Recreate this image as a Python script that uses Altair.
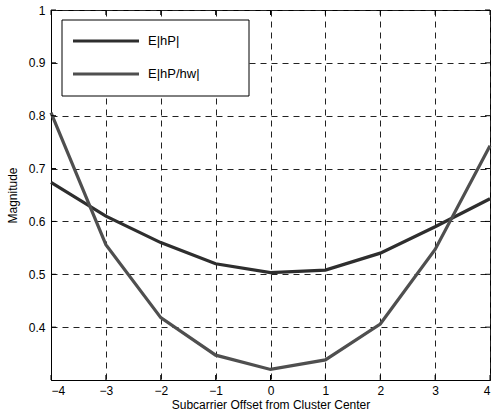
import altair as alt
import pandas as pd

# Subcarrier offsets and the two magnitude curves
offsets = [-4, -3, -2, -1, 0, 1, 2, 3, 4]
e_hp = [0.674, 0.610, 0.560, 0.520, 0.503, 0.508, 0.540, 0.590, 0.643]
e_hp_hw = [0.806, 0.556, 0.418, 0.347, 0.320, 0.338, 0.406, 0.547, 0.743]

series_names = ["E|hP|", "E|hP/hw|"]
series_colors = ["#2e2e2e", "#4f4f4f"]

x_ticks = [-4, -3, -2, -1, 0, 1, 2, 3, 4]
y_ticks = [0.4, 0.5, 0.6, 0.7, 0.8, 0.9, 1.0]

W, H = 439, 370

rows = []
for name, vals in zip(series_names, [e_hp, e_hp_hw]):
    for o, v in zip(offsets, vals):
        rows.append({"offset": o, "mag": v, "series": name})
df = pd.DataFrame(rows)

xscale = alt.Scale(domain=[-4, 4], nice=False, zero=False)
yscale = alt.Scale(domain=[0.3, 1.0], nice=False, zero=False)
cscale = alt.Scale(domain=series_names, range=series_colors)

font = "Liberation Sans"

base = alt.Chart(df)

lines = base.mark_line(strokeWidth=3.2).encode(
    x=alt.X("offset:Q", scale=xscale,
            axis=alt.Axis(values=x_ticks, title="Subcarrier Offset from Cluster Center",
                          grid=True, gridDash=[6, 5], gridColor="#222222", gridWidth=1,
                          tickSize=0, labelPadding=5, domainColor="black",
                          labelFont=font, labelFontSize=12, labelColor="black",
                          titleFont=font, titleFontSize=12, titleFontWeight="normal",
                          titleColor="black", titlePadding=3)),
    y=alt.Y("mag:Q", scale=yscale,
            axis=alt.Axis(values=y_ticks, title="Magnitude", format=".1~f",
                          grid=True, gridDash=[6, 5], gridColor="#222222", gridWidth=1,
                          tickSize=0, labelPadding=6, domainColor="black",
                          labelFont=font, labelFontSize=12, labelColor="black",
                          titleFont=font, titleFontSize=12, titleFontWeight="normal",
                          titleColor="black", titlePadding=9)),
    color=alt.Color("series:N", scale=cscale, legend=None),
)

# Inward tick marks on all four sides
xt = pd.DataFrame({"v": x_ticks})
yt = pd.DataFrame({"v": y_ticks})
tick_style = dict(color="black", strokeWidth=1)
ticks_bottom = alt.Chart(xt).mark_rule(**tick_style).encode(
    x=alt.X("v:Q", scale=xscale), y=alt.value(H - 5), y2=alt.value(H))
ticks_top = alt.Chart(xt).mark_rule(**tick_style).encode(
    x=alt.X("v:Q", scale=xscale), y=alt.value(0), y2=alt.value(5))
ticks_left = alt.Chart(yt).mark_rule(**tick_style).encode(
    y=alt.Y("v:Q", scale=yscale), x=alt.value(0), x2=alt.value(5))
ticks_right = alt.Chart(yt).mark_rule(**tick_style).encode(
    y=alt.Y("v:Q", scale=yscale), x=alt.value(W - 5), x2=alt.value(W))

# Boxed legend in the upper-left corner
legend_box = alt.Chart(pd.DataFrame({"a": [0]})).mark_rect(
    fill="white", stroke="black", strokeWidth=1).encode(
    x=alt.value(11), x2=alt.value(198), y=alt.value(10), y2=alt.value(86))

leg = pd.DataFrame({"series": series_names, "ly": [31, 64]})
legend_lines = alt.Chart(leg).mark_rule(strokeWidth=3.2).encode(
    x=alt.value(22), x2=alt.value(88),
    y=alt.Y("ly:Q", scale=None),
    color=alt.Color("series:N", scale=cscale, legend=None))
legend_text = alt.Chart(leg).mark_text(
    align="left", baseline="middle", font=font, fontSize=13, color="black").encode(
    x=alt.value(97), y=alt.Y("ly:Q", scale=None), text="series:N")

chart = alt.layer(
    lines, ticks_bottom, ticks_top, ticks_left, ticks_right,
    legend_box, legend_lines, legend_text
).properties(
    width=W, height=H,
    padding={"left": 51, "top": 10, "right": 2, "bottom": 36},
    autosize=alt.AutoSizeParams(type="none"),
    background="white",
).configure_view(stroke="black", strokeWidth=1)

chart.save("out.html", embed_options={"renderer": "svg", "actions": False})
